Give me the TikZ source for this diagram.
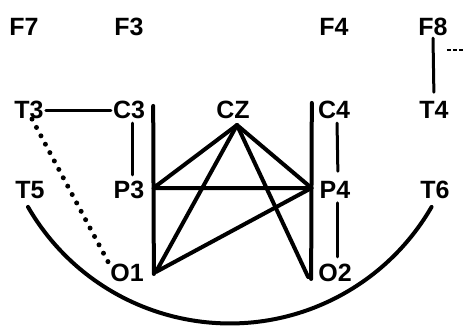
\documentclass[tikz,border=0pt]{standalone}
\usepackage{fontspec}
\setmainfont{Liberation Sans}
\usetikzlibrary{positioning,calc}

\begin{document}
\begin{tikzpicture}[x=1pt,y=-1pt,
  lbl/.style={font=\bfseries\fontsize{25}{25}\selectfont,inner sep=2pt},
  lead/.style={line width=4pt,line cap=round,line join=round},
  stub/.style={line width=3pt,line cap=round}]
  \useasboundingbox (0,0) rectangle (463,329);
  % electrode labels
  \foreach \n/\x/\y in {F7/24/27,F3/129/27,F4/334/27,F8/433/27,
      T3/29/110,C3/129/110,CZ/233/110,C4/334/110,T4/434/110,
      T5/30/190,P3/129/190,P4/335/190,T6/435/190,
      O1/127/273,O2/335/273}
    \node[lbl] (\n) at (\x,\y) {\n};
  % contact points
  \coordinate (cz) at ([shift={(4,4)}]CZ.south);
  \coordinate (p3) at ([shift={(7,-2)}]P3.east);
  \coordinate (p4) at ([shift={(-6,-2)}]P4.west);
  \coordinate (o1) at ([shift={(10,-1)}]O1.east);
  \coordinate (o2) at ([shift={(-8,4)}]O2.west);
  \coordinate (edge) at (463,50);
  % short leads
  \draw[stub] (T3.east) -- (C3.west);
  \draw[stub,shorten <=2pt,shorten >=4pt] ([xshift=3pt]C3.south) -- ([xshift=3pt]P3.north);
  \draw[stub,shorten <=2pt,shorten >=8pt] ([xshift=3pt]C4.south) -- ([xshift=3pt]P4.north);
  \draw[stub,shorten <=2pt,shorten >=5pt] ([xshift=2pt]P4.south) -- ([xshift=2pt]O2.north);
  \draw[stub,shorten >=7pt] (F8.south) -- (T4.north);
  \draw[line width=1.6pt,dash pattern=on 4pt off 2pt] ([shift={(-3,23)}]F8.east) -- (edge);
  % long leads
  \draw[lead] ([shift={(6,7)}]C3.north east) -- ([shift={(8,1)}]O1.east);
  \draw[lead] ([shift={(-4,4)}]C4.north west) -- ([shift={(-5,6)}]O2.west);
  % CZ star
  \draw[lead] (cz) -- (p3) -- (p4) -- (cz);
  \draw[lead] (cz) -- (o1) -- (p4);
  \draw[lead] (cz) -- (o2);
  % dotted T3-O1
  \draw[line width=5pt,line cap=round,dash pattern=on 0pt off 9.5pt] ([shift={(3,-2)}]T3.south) -- (O1.north west);
  % outer arc T5-T6
  \draw[lead] ([shift={(-2,6)}]T5.south) arc[start angle=150,end angle=30,radius=233];
\end{tikzpicture}
\end{document}
